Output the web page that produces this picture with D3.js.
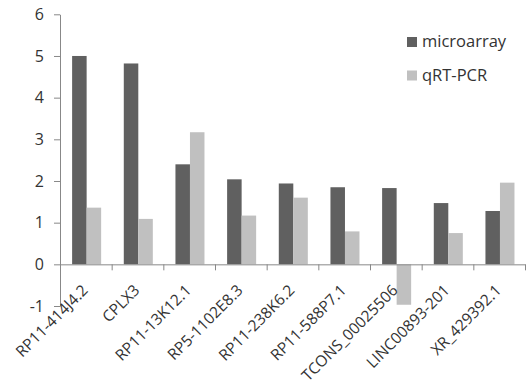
<!DOCTYPE html>
<html><head><meta charset="utf-8">
<script src="https://cdn.jsdelivr.net/npm/d3@7"></script>
<style>body{margin:0;background:#fff}svg{display:block}text{font-family:"Open Sans",sans-serif;fill:#333}</style>
</head><body><svg id="c" width="526" height="387"></svg>
<script>
const categories = ["RP11-414J4.2","CPLX3","RP11-13K12.1","RP5-1102E8.3","RP11-238K6.2","RP11-588P7.1","TCONS_00025506","LINC00893-201","XR_429392.1"];
const microarray = [5.0, 4.82, 2.40, 2.04, 1.94, 1.85, 1.83, 1.47, 1.28];
const qrtpcr = [1.36, 1.09, 3.17, 1.17, 1.60, 0.79, -0.97, 0.75, 1.96];
const seriesNames = ["microarray","qRT-PCR"];
const yTicks = [-1,0,1,2,3,4,5,6];
const colors = ["#606060","#c0c0c0"];

(function(){
const svg = d3.select("#c");
const mLeft = 60, mRight = 525, mTop = 14.3, mBottom = 306;
const y = d3.scaleLinear().domain([-1,6]).range([mBottom, mTop]);
const x = d3.scaleBand().domain(categories).range([mLeft, mRight]).paddingInner(0).paddingOuter(0);
const inner = d3.scaleBand().domain(seriesNames).range([0, x.bandwidth()]).paddingInner(0).paddingOuter(0.78);

const series = [microarray, qrtpcr];
series.forEach((vals, si) => {
  svg.append("g").selectAll("rect").data(vals).join("rect")
    .attr("x", (d,i) => x(categories[i]) + inner(seriesNames[si]) + 0.8)
    .attr("width", inner.bandwidth())
    .attr("y", d => y(Math.max(0,d)))
    .attr("height", d => Math.abs(y(d) - y(0)))
    .attr("fill", colors[si]);
});

const yAxis = svg.append("g").attr("transform", `translate(${mLeft},0)`)
  .call(d3.axisLeft(y).tickValues(yTicks).tickSize(6).tickSizeOuter(0).tickFormat(d => String(d)));
yAxis.select(".domain").attr("stroke", "#888");
yAxis.selectAll(".tick line").attr("stroke", "#888");
yAxis.selectAll(".tick text").attr("x", -16).style("font-size", "16px").attr("fill", "#333");

const xb = d3.scaleLinear().domain([0, categories.length]).range([mLeft, mRight]);
const xAxis = svg.append("g").attr("transform", `translate(0,${y(0)})`)
  .call(d3.axisBottom(xb).tickValues(d3.range(0, categories.length + 1)).tickSize(6).tickSizeOuter(0).tickFormat(""));
xAxis.select(".domain").attr("stroke", "#888");
xAxis.selectAll(".tick line").attr("stroke", "#888");

svg.append("g").selectAll("text").data(categories).join("text")
  .attr("transform", d => `translate(${x(d) + x.bandwidth()/2 + 3},${y(0) + 27}) rotate(-45)`)
  .attr("text-anchor", "end")
  .style("font-size", "15.5px")
  .text(d => d);

const lg = svg.append("g");
seriesNames.forEach((n, i) => {
  lg.append("rect").attr("x", 407).attr("y", 37 + i*33.5).attr("width", 10).attr("height", 10).attr("fill", colors[i]);
  lg.append("text").attr("x", 422).attr("y", 47 + i*33.5).style("font-size", "16.5px").text(n);
});
})();
</script></body></html>
